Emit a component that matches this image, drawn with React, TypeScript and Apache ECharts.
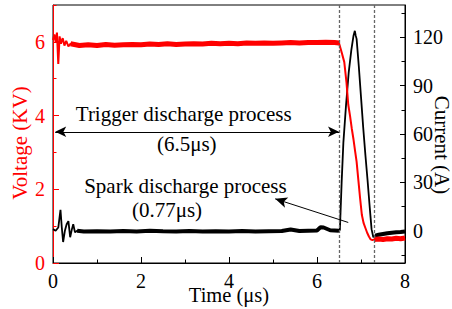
import React, { useEffect, useRef } from "react";
import * as echarts from "echarts";

// Time axis (μs) for the voltage trace
const timeV = [
  0, 0.03, 0.06, 0.09, 0.12, 0.15, 0.18, 0.22, 0.26, 0.3, 0.35, 0.4,
  0.6, 0.8, 1.0, 1.2, 1.4, 1.6, 1.8, 2.0, 2.2, 2.4, 2.6, 2.8, 3.0, 3.2, 3.4,
  3.6, 3.8, 4.0, 4.2, 4.4, 4.6, 4.8, 5.0, 5.2, 5.4, 5.6, 5.8, 6.0, 6.2, 6.4,
  6.5, 6.56, 6.62, 6.67, 6.71, 6.75, 6.79, 6.83, 6.87, 6.9, 6.94, 6.98, 7.02,
  7.06, 7.1, 7.14, 7.18, 7.22, 7.26, 7.3, 7.4, 7.5, 7.6, 7.7, 7.8, 7.9, 8.0,
];
// Voltage (KV)
const voltage = [
  6.05, 6.2, 6.0, 6.25, 5.4, 6.15, 5.95, 6.1, 5.9, 6.03, 5.88, 5.95,
  5.9, 5.92, 5.9, 5.93, 5.91, 5.92, 5.93, 5.92, 5.94, 5.93, 5.95, 5.93, 5.94, 5.95, 5.94,
  5.96, 5.95, 5.96, 5.95, 5.97, 5.96, 5.97, 5.96, 5.97, 5.98, 5.97, 5.98, 5.98, 5.99, 5.98,
  5.97, 5.72, 5.45, 4.9, 4.3, 4.0, 3.65, 3.35, 3.0, 2.75, 2.25, 1.75, 1.3,
  1.08, 0.95, 0.82, 0.72, 0.64, 0.62, 0.64, 0.65, 0.64, 0.66, 0.65, 0.67, 0.66, 0.68,
];

// Time axis (μs) for the current trace
const timeI = [
  0, 0.06, 0.12, 0.17, 0.2, 0.23, 0.27, 0.31, 0.35, 0.39, 0.43, 0.46, 0.5, 0.55,
  0.7, 1.0, 1.3, 1.6, 1.9, 2.2, 2.5, 2.8, 3.1, 3.4, 3.7, 4.0, 4.3, 4.6, 4.9,
  5.2, 5.4, 5.6, 5.8, 6.0, 6.08, 6.15, 6.3, 6.5, 6.52, 6.56, 6.6, 6.66, 6.72,
  6.78, 6.83, 6.86, 6.88, 6.9, 6.95, 7.0, 7.05, 7.1, 7.15, 7.2, 7.24, 7.28,
  7.32, 7.4, 7.5, 7.6, 7.7, 7.8, 7.9, 8.0,
];
// Current (A)
const current = [
  1, 0, 2, 13, 2, -7, 0, 4, 6, -4, 1, 4, -1, 0,
  -0.5, -0.3, -0.5, -0.2, -0.4, 0, -0.3, -0.5, -0.2, -0.4, -0.3, -0.5, -0.2, -0.4, -0.3,
  -0.2, 0.8, -0.2, 0, 0.2, 2.2, 2.0, 0.3, 0, 0.5, 30, 55, 78, 98,
  112, 121, 124, 121, 119, 102, 83, 64, 47, 31, 14, 1, -4,
  -3, -2.5, -2, -1.5, -1.2, -1, -0.8, -0.5,
];

const xTickValues = [0, 2, 4, 6, 8];
const voltageLabels = [0, 2, 4, 6];
const voltageMinorTicks = [1, 3, 5, 7];
const currentLabels = [0, 30, 60, 90, 120];
const currentMinorTicks = [-15, 15, 45, 75, 105, 135];

const triggerStart = 0.05;
const triggerEnd = 6.5;
const sparkEnd = 7.3;

const annotations = [
  { text: "Trigger discharge process", t: 2.97, v: 4.03 },
  { text: "(6.5μs)", t: 3.04, v: 3.22 },
  { text: "Spark discharge process", t: 3.01, v: 2.1 },
  { text: "(0.77μs)", t: 2.59, v: 1.44 },
];
const triggerArrowV = 3.56;
const sparkArrowFrom = [6.71, 1.1];
const sparkArrowTo = [5.05, 1.74];

const FONT = "Liberation Serif, Times New Roman, serif";

export default function App() {
  const ref = useRef<HTMLDivElement>(null);

  useEffect(() => {
    if (!ref.current) return;
    const chart = echarts.init(ref.current, undefined, { renderer: "svg" });

    const vPairs = timeV.map((t, i) => [t, voltage[i]]);
    const iPairs = timeI.map((t, i) => [t, current[i]]);
    const band = (pairs: any[], start: number) =>
      pairs.map(([t, v]) =>
        (t >= start && t <= triggerEnd) || t >= sparkEnd ? [t, v] : [t, "-"]
      );

    const tickStyle = (color: string) => ({ color, width: 1 });

    const option: any = {
      animation: false,
      textStyle: { fontFamily: FONT },
      grid: {
        left: 53,
        right: 47,
        top: 5,
        bottom: 46,
        show: true,
        borderColor: "#000",
        borderWidth: 1,
        containLabel: false,
        outerBoundsMode: "none",
      },
      xAxis: {
        type: "value",
        min: 0,
        max: 8,
        interval: 2,
        axisLine: { lineStyle: { color: "#000", width: 1 } },
        axisTick: {
          inside: true,
          length: 6,
          customValues: xTickValues,
          lineStyle: tickStyle("#000"),
        },
        minorTick: { show: true, splitNumber: 2, length: 3.5, lineStyle: tickStyle("#000") },
        axisLabel: {
          color: "#000",
          fontSize: 20,
          fontFamily: FONT,
          margin: 11,
          lineHeight: 14,
        },
        splitLine: { show: false },
        name: "Time (μs)",
        nameLocation: "middle",
        nameGap: 25,
        nameMoveOverlap: false,
        nameTextStyle: { color: "#000", fontSize: 20.5, fontFamily: FONT, lineHeight: 14 },
      },
      yAxis: [
        {
          type: "value",
          position: "left",
          min: 0,
          max: 7,
          interval: 1,
          axisLine: { show: true, lineStyle: { color: "#ff0000", width: 1 } },
          axisTick: {
            show: true,
            inside: true,
            length: 6,
            customValues: voltageLabels,
            lineStyle: tickStyle("#ff0000"),
          },
          axisLabel: {
            color: "#ff0000",
            fontSize: 20,
            fontFamily: FONT,
            margin: 8,
            customValues: voltageLabels,
          },
          splitLine: { show: false },
        },
        {
          type: "value",
          position: "right",
          min: -20,
          max: 140,
          interval: 20,
          axisLine: { show: true, lineStyle: { color: "#000", width: 1 } },
          axisTick: {
            show: true,
            inside: true,
            length: 5,
            customValues: currentLabels,
            lineStyle: tickStyle("#000"),
          },
          axisLabel: {
            color: "#000",
            fontSize: 20,
            fontFamily: FONT,
            margin: 8,
            customValues: currentLabels,
          },
          splitLine: { show: false },
        },
        {
          type: "value",
          position: "left",
          min: 0,
          max: 7,
          interval: 1,
          axisLine: { show: false },
          axisTick: {
            show: true,
            inside: true,
            length: 3.5,
            customValues: voltageMinorTicks,
            lineStyle: tickStyle("#ff0000"),
          },
          axisLabel: { show: false },
          splitLine: { show: false },
        },
        {
          type: "value",
          position: "right",
          min: -20,
          max: 140,
          interval: 20,
          axisLine: { show: false },
          axisTick: {
            show: true,
            inside: true,
            length: 3.5,
            customValues: currentMinorTicks,
            lineStyle: tickStyle("#000"),
          },
          axisLabel: { show: false },
          splitLine: { show: false },
        },
      ],
      series: [
        {
          name: "Current thin",
          type: "line",
          yAxisIndex: 1,
          data: iPairs,
          symbol: "none",
          lineStyle: { color: "#000", width: 1.8 },
          z: 2,
          markLine: {
            silent: true,
            symbol: "none",
            label: { show: false },
            lineStyle: { color: "#666", type: [3, 2], width: 1.3 },
            data: [{ xAxis: triggerEnd }, { xAxis: sparkEnd }],
          },
        },
        {
          name: "Current band",
          type: "line",
          yAxisIndex: 1,
          data: band(iPairs, 0.55),
          symbol: "none",
          connectNulls: false,
          lineStyle: { color: "#000", width: 4 },
          z: 2,
        },
        {
          name: "Voltage thin",
          type: "line",
          yAxisIndex: 0,
          data: vPairs,
          symbol: "none",
          lineStyle: { color: "#ff0000", width: 2 },
          z: 3,
          markPoint: {
            silent: true,
            symbol: "rect",
            symbolSize: 1,
            itemStyle: { color: "transparent" },
            label: {
              show: true,
              position: "inside",
              color: "#000",
              fontSize: 21,
              fontFamily: FONT,
              formatter: (p: any) => p.name,
            },
            data: annotations.map((a) => ({ name: a.text, coord: [a.t, a.v] })),
          },
        },
        {
          name: "Voltage band",
          type: "line",
          yAxisIndex: 0,
          data: band(vPairs, 0.4),
          symbol: "none",
          connectNulls: false,
          lineStyle: { color: "#ff0000", width: 5 },
          z: 3,
          markLine: {
            silent: true,
            label: { show: false },
            lineStyle: { color: "#000", type: "solid", width: 1 },
            data: [
              [
                { coord: [triggerStart, triggerArrowV], symbol: "arrow", symbolSize: [8, 11] },
                { coord: [triggerEnd, triggerArrowV], symbol: "arrow", symbolSize: [8, 11] },
              ],
              [
                { coord: sparkArrowFrom, symbol: "none" },
                { coord: sparkArrowTo, symbol: "arrow", symbolSize: [8, 12] },
              ],
            ],
          },
        },
      ],
      graphic: [
        {
          type: "text",
          x: 20,
          y: 143,
          rotation: Math.PI / 2,
          style: {
            text: "Voltage (KV)",
            fill: "#ff0000",
            fontSize: 21,
            fontFamily: FONT,
            align: "center",
            verticalAlign: "middle",
          },
        },
        {
          type: "text",
          x: 441.5,
          y: 145,
          rotation: -Math.PI / 2,
          style: {
            text: "Current (A)",
            fill: "#000",
            fontSize: 21,
            fontFamily: FONT,
            align: "center",
            verticalAlign: "middle",
          },
        },
      ],
    };

    chart.setOption(option);
    return () => chart.dispose();
  }, []);

  return (
    <div
      ref={ref}
      style={{ position: "fixed", left: 0, top: 0, width: 452, height: 309, background: "#fff" }}
    />
  );
}
